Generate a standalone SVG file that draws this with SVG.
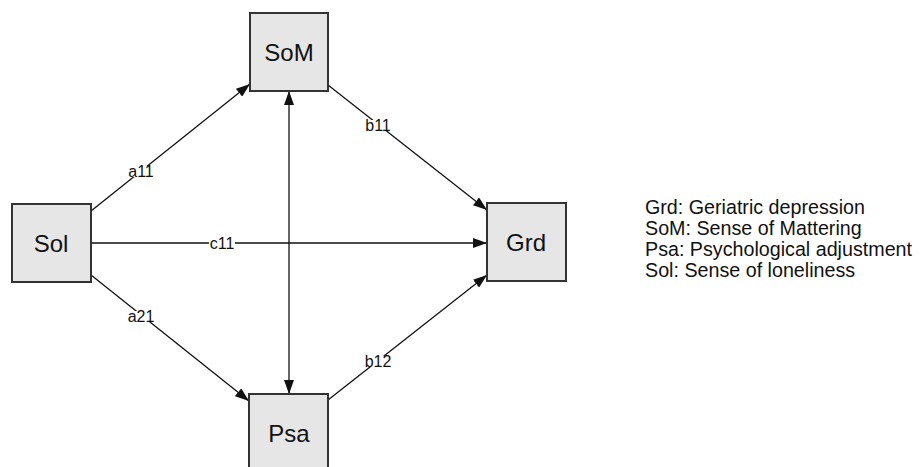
<svg xmlns="http://www.w3.org/2000/svg" width="921" height="467" viewBox="0 0 921 467">
<style>
.box{fill:#e6e6e6;stroke:#333;stroke-width:2}
.nt{font-family:"Liberation Sans",Arial,sans-serif;font-size:24px;fill:#111;text-anchor:middle;dominant-baseline:central}
.lb{font-family:"Liberation Sans",Arial,sans-serif;font-size:16px;fill:#111;text-anchor:middle;dominant-baseline:central}
.lbg{fill:#fff}
.e{stroke:#111;stroke-width:1.3;fill:none}
.lg{font-family:"Liberation Sans",Arial,sans-serif;font-size:19.7px;fill:#111}
</style>
<defs>
<marker id="ah" markerUnits="userSpaceOnUse" markerWidth="14" markerHeight="10" refX="14" refY="5" orient="auto-start-reverse" viewBox="0 0 14 10">
<path d="M0,0 L14,5 L0,10 z" fill="#111"/>
</marker>
</defs>
<g id="connectors">
<line class="e" x1="91" y1="211" x2="250" y2="84" marker-end="url(#ah)"/>
<line class="e" x1="91" y1="243" x2="487" y2="243" marker-end="url(#ah)"/>
<line class="e" x1="91" y1="275" x2="249" y2="401" marker-end="url(#ah)"/>
<line class="e" x1="328" y1="85" x2="487" y2="210" marker-end="url(#ah)"/>
<line class="e" x1="328" y1="400" x2="487" y2="275" marker-end="url(#ah)"/>
<line class="e" x1="289" y1="91" x2="289" y2="394" marker-start="url(#ah)" marker-end="url(#ah)"/>
<rect class="lbg" x="129" y="166" width="25" height="11"/>
<text class="lb" x="141" y="171">a11</text>
<rect class="lbg" x="209" y="238" width="26" height="11"/>
<text class="lb" x="222" y="243">c11</text>
<rect class="lbg" x="129" y="311" width="25" height="11"/>
<text class="lb" x="141" y="316">a21</text>
<rect class="lbg" x="366" y="120" width="25" height="11"/>
<text class="lb" x="378" y="125">b11</text>
<rect class="lbg" x="366" y="356" width="25" height="11"/>
<text class="lb" x="378" y="361">b12</text>
</g>
<g id="SoM"><rect class="box" x="250" y="13" width="78" height="78"/><text class="nt" x="289" y="52">SoM</text></g>
<g id="Sol"><rect class="box" x="12" y="204" width="79" height="78"/><text class="nt" x="51" y="243">Sol</text></g>
<g id="Grd"><rect class="box" x="487" y="203" width="79" height="78"/><text class="nt" x="526" y="242">Grd</text></g>
<g id="Psa"><rect class="box" x="249" y="394" width="79" height="78"/><text class="nt" x="289" y="433">Psa</text></g>
<g id="legend">
<text class="lg" x="645" y="214">Grd: Geriatric depression</text>
<text class="lg" x="645" y="235">SoM: Sense of Mattering</text>
<text class="lg" x="645" y="256">Psa: Psychological adjustment</text>
<text class="lg" x="645" y="277">Sol: Sense of loneliness</text>
</g>
</svg>
